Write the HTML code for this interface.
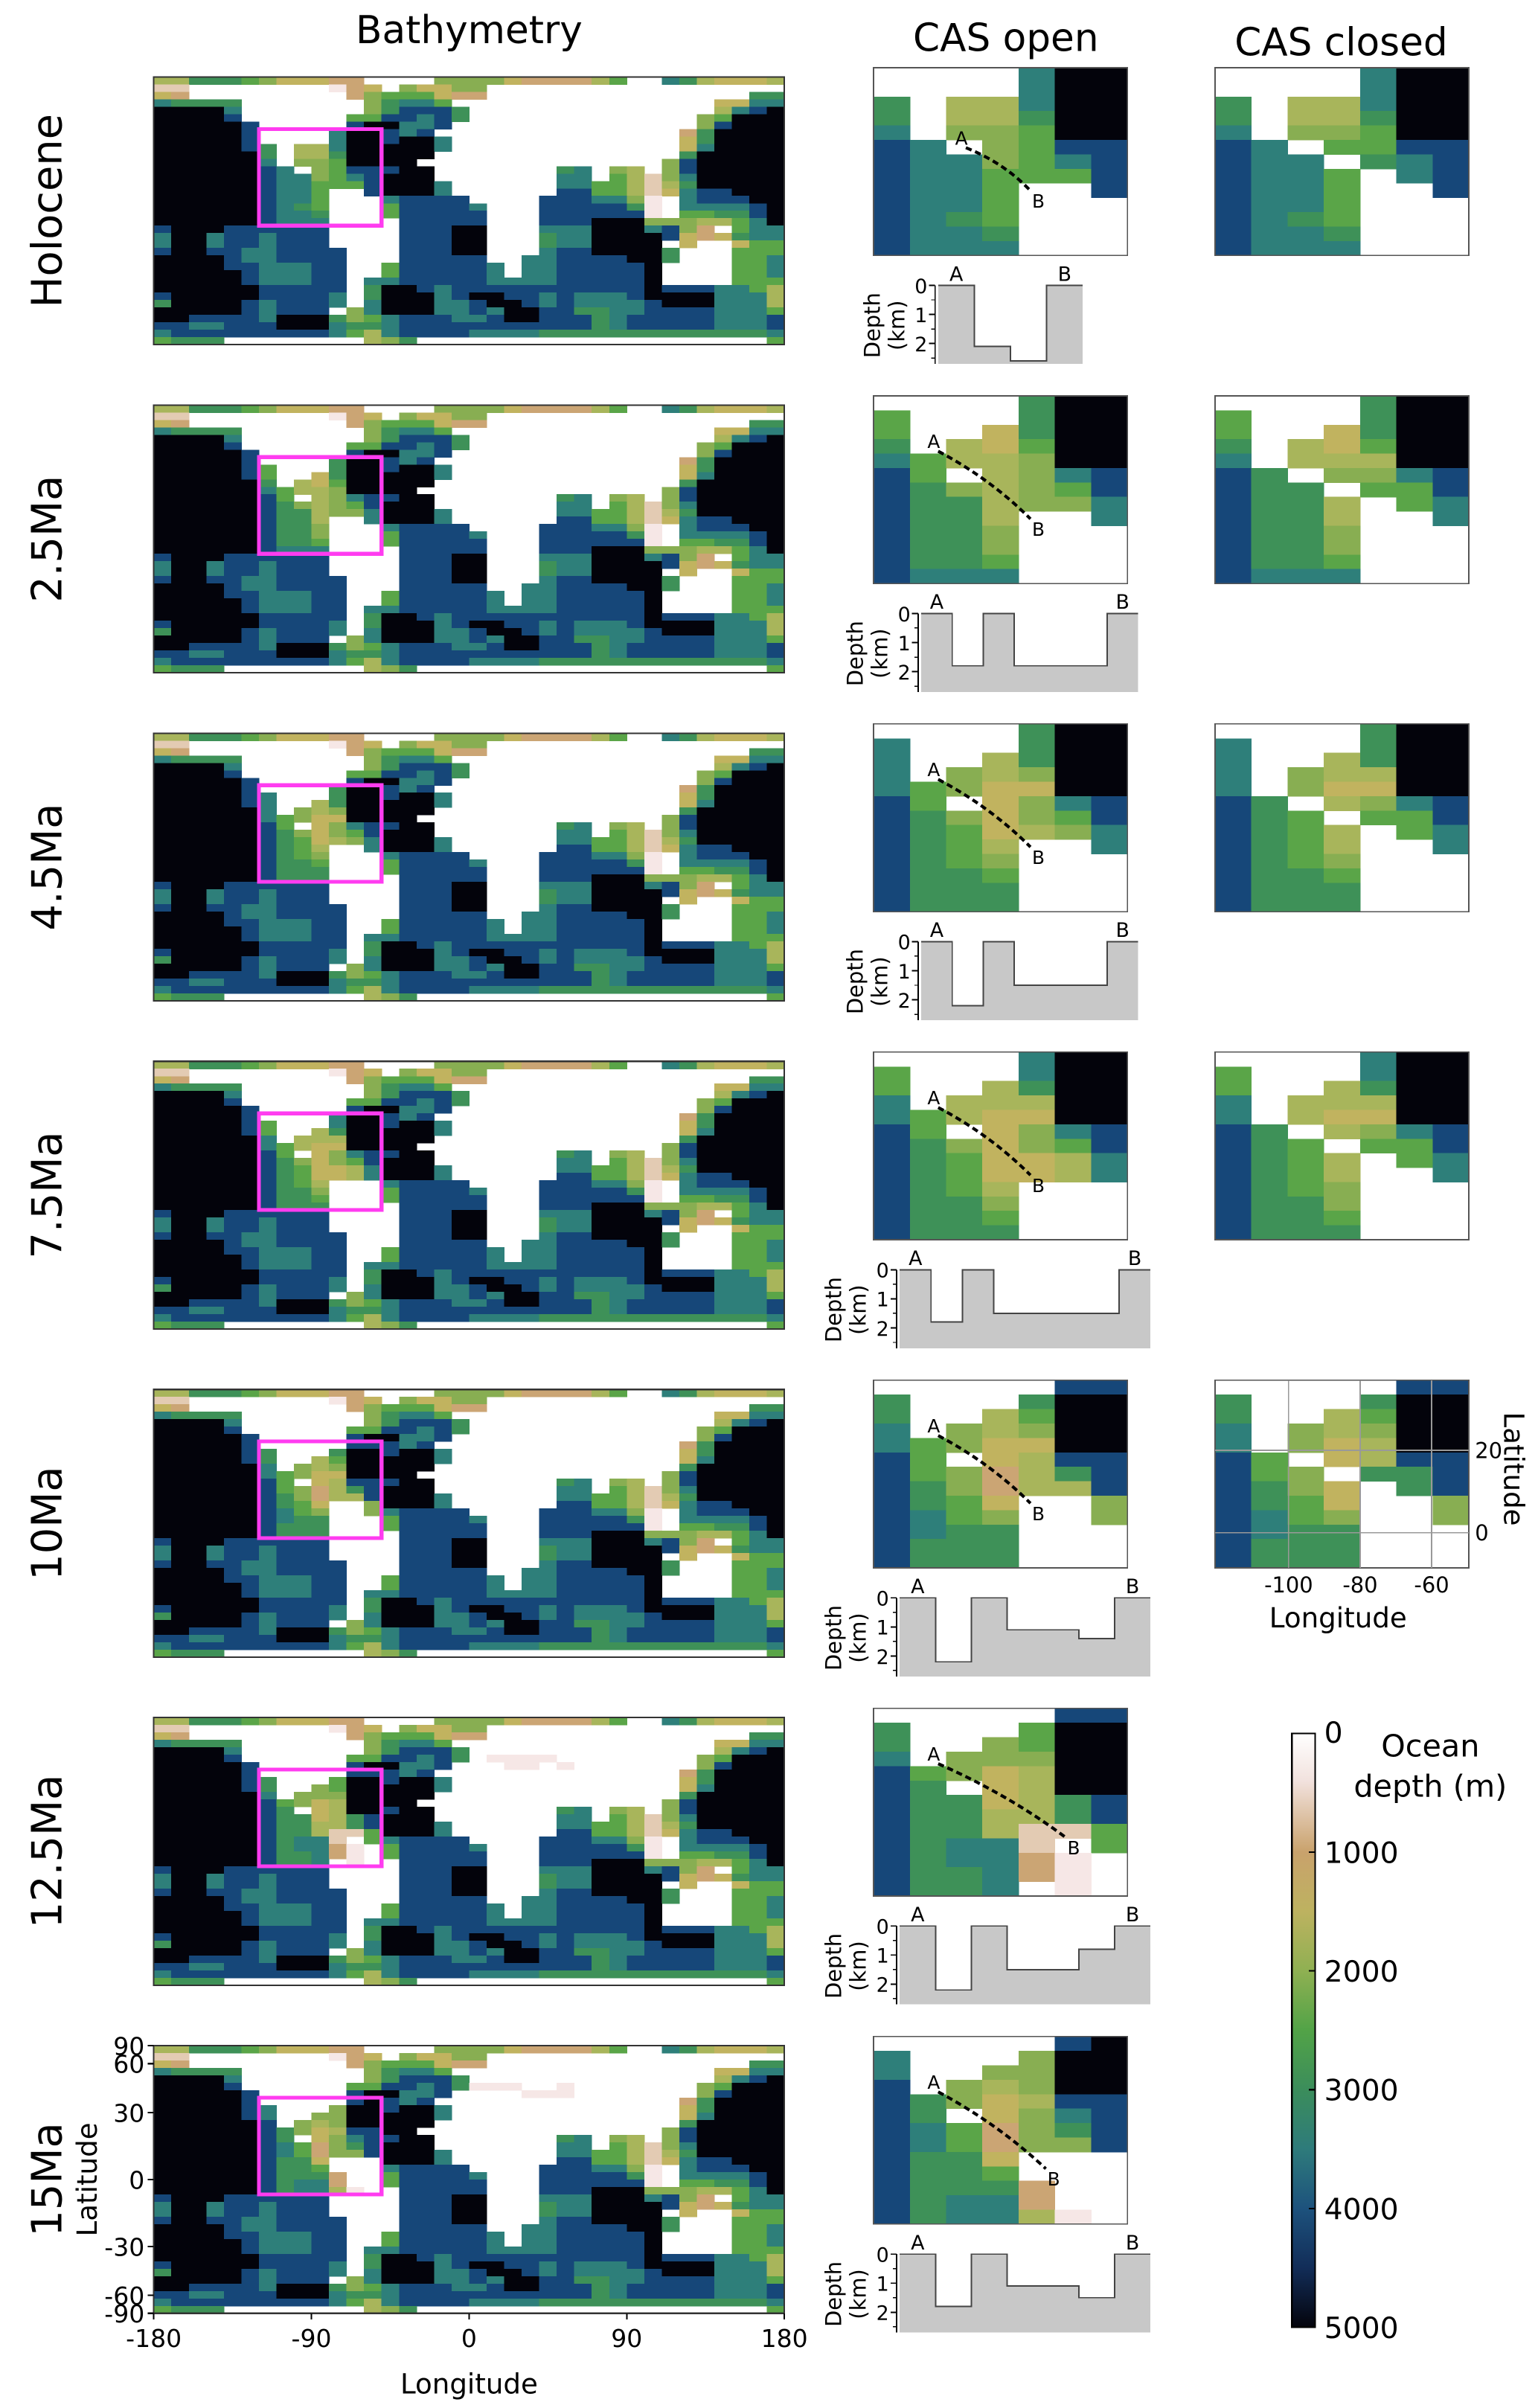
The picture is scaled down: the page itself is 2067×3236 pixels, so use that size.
<!DOCTYPE html>
<html><head><meta charset="utf-8"><title>Bathymetry CAS figure</title>
<style>
html,body{margin:0;padding:0;background:#fff;}
svg{display:block;font-family:"DejaVu Sans","Liberation Sans",sans-serif;}
</style></head>
<body>
<svg id="fig" xmlns="http://www.w3.org/2000/svg" width="2067" height="3236" viewBox="0 0 1000 1565.5" shape-rendering="crispEdges"></svg>
<script>
// ---------- data ----------
const epochs = ['Holocene','2.5Ma','4.5Ma','7.5Ma','10Ma','12.5Ma','15Ma'];
const palette = {w:'#ffffff','1':'#f6e7e6','2':'#e3cbb3','3':'#cba574','4':'#c1b35f','5':'#a8b55b','6':'#88ae52','7':'#5aa548','8':'#3e9158','9':'#2e7f7a',a:'#164779',b:'#03030b'};
const baseMap = [
"558887644433wwww66664333357ww9854445",
"22wwwwwwww134w64466wwwwwwwwwwwwwwwww",
"43wwwwwwwww36777433wwwwwwwwwwwwwww88",
"98888wwwwwww68997wwwwwwwwwwwwwww4499",
"bbbb9wwwwwww68aaa8wwwwwwwwwwwwww59ab",
"bbbbawwwwww77aa9a8wwwwwwwwwwwww67bbb",
"bbbbbawwwwwabb99awwwwwwwwwwwwww6abbb",
"bbbbbawwww9bba9awwwwwwwwwwwwww38bbbb",
"bbbbba8w559bbabb9wwwwwwwwwwwww48bbbb",
"bbbbba8w558bbbbb9wwwwwwwwwwwww49bbbb",
"bbbbbb9w667bbbbbwwwwwwwwwwwwww8bbbbb",
"bbbbbba9w67bbbbwwwwwwwwwwwwww6abbbbb",
"bbbbbba99679aabbwwwwwww89w65w6abbbbb",
"bbbbbba99779abbbwwwwwww99w75269bbbbb",
"bbbbbba99777abbb9wwwwww99775258bbbbb",
"bbbbbba997wwabbb9wwwwwwaa775249aabbb",
"bbbbbba997www9aaaawwwwaaa9961w9aaabb",
"bbbbbba987www7aaaa9wwwaaaaa81w9999ab",
"bbbbbba998www7aaaaawwwaaaaaa1w7788ab",
"bbbbbba999wwwwaaaaawwwaaabbb6665579b",
"abbbaaaaaawwwwaaabbwww999bbb9a63w799",
"9bb9aa9aaawwwwaaabbwww899bbbba434899",
"9bb9aa9aaawwwwaaabbwww899bbbbw4ww477",
"abbaa99aaaawwwaaabbwww9aabbbb8www777",
"bbbba99aaaawwwaaaaaww99aaaabb8www779",
"bbbbaa999aaww7aaaaa9w99aaaaabwwww779",
"bbbbba999aaww7aaaaa9w99aaaaabwwww779",
"bbbbba999aaw99aaaaa9999aaaaabwwww777",
"bbbbbbaaaaaw8bba9aaaaaaaaaaabaaa9975",
"abbbbbaaaa9w8bbb9abbaa9a999abbbb9995",
"8bbbba9aaa9w9bbb99abba9a9999abbb9995",
"bbbbba9aaaw69bbb99a9bbaa8899aaaa9997",
"bbaaaa9bbb8679aaa99abbaaa89aaaaa999a",
"aa99aaabbb9889aaaaaaaaaaa89aaaaa999a",
"9aaaaaaaaa9759aaaa999988888888888889",
"7888wwwwwwww568wwwwwwwwwwwwwwwwwwww7"
];
const casOpen = [
["wwww9bb","wwww9bb","8w559bb","8w558bb","9w667bb","a9w67aa","a99679a","a99777a","a997wwa","a997www","a987www","a998www","a999www"],
["wwww8bb","7www8bb","7ww48bb","8w547bb","97556bb","a7w569a","a86567a","a885669","a885ww9","a886www","a886www","a887www","a999www"],
["wwww8bb","9www8bb","9ww58bb","9w656bb","97644bb","a7w469a","a86467a","a874569","a875ww9","a876www","a887www","a888www","a888www"],
["wwww9bb","7www9bb","7ww58bb","9w555bb","97544bb","a7w469a","a86467a","a874459","a874459","a875www","a886www","a887www","a888www"],
["wwwwwaa","8www8bb","8ww57bb","9w656bb","97644bb","a7w45aa","a76358a","a86355a","a874ww6","a976ww6","a988www","a888www","a888www"],
["wwwwwaa","8www7bb","8ww67bb","9w666bb","a7645bb","a8w45bb","a88458a","a88558a","a885227","a8992w7","a89931w","a88931w","a889w1w"],
["wwwwwab","9www6bb","9ww66bb","aw656bb","a8645aa","a8w469a","a97368a","a97366a","a884www","a887www","a8883ww","a8993ww","a89951w"]
];
const casClosed = [
["wwww9bb","wwww9bb","8w559bb","8w558bb","9w667bb","a9w77aa","a99w89a","a997w9a","a997wwa","a997www","a987www","a998www","a999www"],
["wwww8bb","7www8bb","7ww48bb","8w547bb","9w555bb","a8w669a","a88w77a","a885w79","a885ww9","a886www","a886www","a887www","a999www"],
["wwww8bb","9www8bb","9ww58bb","9w655bb","9w644bb","a8w569a","a87w77a","a875w79","a875ww9","a876www","a887www","a888www","a888www"],
["wwww9bb","7www9bb","7ww58bb","9w555bb","9w544bb","a8w569a","a87w77a","a875w79","a875ww9","a876www","a886www","a887www","a888www"],
["wwwwwaa","8www8bb","8ww57bb","9w656bb","9w645bb","a7w45aa","a76w88a","a864w8a","a874ww6","a976ww6","a988www","a888www","a888www"]
];
// extra shelf cells differing from the base map: [epochIndex,row,col,code]
const mapPatches = [
[5,5,19,'1'],[5,5,20,'1'],[5,5,21,'1'],[5,5,22,'1'],[5,6,20,'1'],[5,6,21,'1'],[5,6,23,'1'],
[6,5,18,'1'],[6,5,19,'1'],[6,5,20,'1'],[6,6,21,'1'],[6,6,22,'1'],[6,6,23,'1'],[6,5,23,'1']
];
const profDepths = [
[0,2.1,2.6,0],
[0,1.8,0,1.8,1.8,1.8,0],
[0,2.2,0,1.5,1.5,1.5,0],
[0,1.8,0,1.5,1.5,1.5,1.5,0],
[0,2.2,0,1.1,1.1,1.4,0],
[0,2.2,0,1.5,1.5,0.8,0],
[0,1.8,0,1.1,1.1,1.5,0]
];
const profTicks = [0,1,2];
const latTicks = [90,60,30,0,-30,-60,-90];
const lonTicks = [-180,-90,0,90,180];
const casLonTicks = [-100,-80,-60];
const casLatTicks = [20,0];
const cbTicks = [0,1000,2000,3000,4000,5000];

// ---------- layout ----------
const svg = document.getElementById('fig');
const NS = 'http://www.w3.org/2000/svg';
function mk(tag, attrs, parent){ const e=document.createElementNS(NS,tag); for(const k in attrs) e.setAttribute(k,attrs[k]); (parent||svg).appendChild(e); return e; }
function txt(s, attrs, parent){ const e=mk('text',attrs,parent); e.textContent=s; return e; }

const mapX0=100, mapW=410, mapH=174, rowStep=213.33, mapTop0=50;
const casX0=568, casCX0=790, casW=165, casH=122, casTop0=44;
const nc=36, nr=36;
const cw=mapW/nc, ch=mapH/nr;
const lonX = v => mapX0 + (v+180)/360*mapW;
const latY = (v,top) => top + (1-Math.sin(v*Math.PI/180))/2*mapH;

let t;
t=txt('Bathymetry',{x:305,y:28,'font-size':25,'text-anchor':'middle'});
 
t=txt('CAS open',{x:654,y:33,'font-size':25,'text-anchor':'middle'});
 
t=txt('CAS closed',{x:872,y:36,'font-size':25,'text-anchor':'middle'});
 

function drawGrid(grid, x0, y0, w, h, name, parent){
  const rows=grid.length, cols=grid[0].length, dx=w/cols, dy=h/rows;
  for(let r=0;r<rows;r++) for(let c=0;c<cols;c++){
    const code=grid[r][c]; if(code==='w') continue;
    const cell=mk('rect',{x:(x0+c*dx).toFixed(2),y:(y0+r*dy).toFixed(2),width:(dx+0.25).toFixed(2),height:(dy+0.25).toFixed(2),fill:palette[code]},parent);
    
    
  }
}

epochs.forEach((ep,i)=>{
  const top=mapTop0+i*rowStep;
  const g=mk('g',{});
  
  
  const lab=txt(ep,{x:0,y:0,'font-size':27,'text-anchor':'middle',transform:`translate(40 ${top+mapH/2}) rotate(-90)`},g);
  
  
  const grid=baseMap.map(s=>s.split(''));
  casOpen[i].forEach((row,r)=>{ for(let c=0;c<7;c++) grid[7+r][6+c]=row[c]; });
  mapPatches.filter(p=>p[0]===i).forEach(p=>{ grid[p[1]][p[2]]=p[3]; });
  drawGrid(grid,mapX0,top,mapW,mapH,'bathymetry-cell',g);
  const fr=mk('rect',{x:mapX0,y:top,width:mapW,height:mapH,fill:'none',stroke:'#333',"stroke-width":1},g);
  
  
  const box=mk('rect',{x:mapX0+6*cw,y:top+7*ch,width:7*cw,height:13*ch,fill:'none',stroke:'#ff3cf0','stroke-width':2.5},g);
  
  

  const ctop=casTop0+i*rowStep;
  drawGrid(casOpen[i],casX0,ctop,casW,casH,'cas-open-cell',g);
  const cf=mk('rect',{x:casX0,y:ctop,width:casW,height:casH,fill:'none',stroke:'#555','stroke-width':0.8},g);
  
  
  const ax = i===0?[60,52]:[42,36];
  const bx = i===5?[125,84]:(i===6?[112,86]:[102,80]);
  const dl=mk('path',{d:`M${casX0+ax[0]} ${ctop+ax[1]} Q ${casX0+(ax[0]+bx[0])/2+4} ${ctop+(ax[1]+bx[1])/2-4} ${casX0+bx[0]} ${ctop+bx[1]}`,fill:'none',stroke:'#000','stroke-width':2,'stroke-dasharray':'4 2.5','shape-rendering':'auto'},g);
  
  
  t=txt('A',{x:casX0+ax[0]-7,y:ctop+ax[1]-2,'font-size':12},g);
   
  t=txt('B',{x:casX0+bx[0]+1,y:ctop+bx[1]+11,'font-size':12},g);
   

  if(i<casClosed.length){
    drawGrid(casClosed[i],casCX0,ctop,casW,casH,'cas-closed-cell',g);
    const cc=mk('rect',{x:casCX0,y:ctop,width:casW,height:casH,fill:'none',stroke:'#555','stroke-width':0.8},g);
    
    
  }

  const axX=[610,599,599,585,585,585,585][i], right=[704,740,740,748,748,748,748][i];
  const z0=ctop+141.5, kmPx=18.9, maxD=2.7;
  const dY=d=>z0+d*kmPx;
  const deps=profDepths[i], n=deps.length, sw=(right-axX)/n;
  let d=`M${axX} ${dY(maxD)}`;
  deps.forEach((v,k)=>{ d+=` L${axX+k*sw} ${dY(v)} L${axX+(k+1)*sw} ${dY(v)}`; });
  d+=` L${right} ${dY(maxD)} Z`;
  const pf=mk('path',{d:d,fill:'#c8c8c8',stroke:'none'},g);
  
  
  let ld=''; deps.forEach((v,k)=>{ ld+=(k===0?'M':' L')+`${axX+k*sw} ${dY(v)} L${axX+(k+1)*sw} ${dY(v)}`; });
  const pl=mk('path',{d:ld,fill:'none',stroke:'#444','stroke-width':0.9},g);
  
  
  const pa=mk('line',{x1:axX-2,y1:dY(0),x2:axX-2,y2:dY(maxD),stroke:'#000','stroke-width':0.9},g);
  
  
  profTicks.forEach(v=>{
    const tk=mk('line',{x1:axX-6,y1:dY(v),x2:axX-2,y2:dY(v),stroke:'#000','stroke-width':0.9},g);
    
    
    const tl=txt(String(v),{x:axX-7,y:dY(v)+5,'font-size':13,'text-anchor':'end'},g);
    
    
  });
  [0.5,1.5,2.5].forEach(v=>{
    const mt=mk('line',{x1:axX-4.5,y1:dY(v),x2:axX-2,y2:dY(v),stroke:'#000','stroke-width':0.7},g);
    
    
  });
  t=txt('Depth',{x:0,y:0,'font-size':14,'text-anchor':'middle',transform:`translate(${axX-38} ${z0+26}) rotate(-90)`},g);
   
  t=txt('(km)',{x:0,y:0,'font-size':14,'text-anchor':'middle',transform:`translate(${axX-22} ${z0+26}) rotate(-90)`},g);
   
  t=txt('A',{x:axX+sw*0.5,y:z0-3,'font-size':13,'text-anchor':'middle'},g);
   
  t=txt('B',{x:right-sw*0.5,y:z0-3,'font-size':13,'text-anchor':'middle'},g);
   
});

const lastTop=mapTop0+6*rowStep;
latTicks.forEach(v=>{
  const y=latY(v,lastTop);
  const tk=mk('line',{x1:mapX0-4,y1:y,x2:mapX0,y2:y,stroke:'#000'});
  
  
  const tl=txt(String(v),{x:mapX0-6,y:y+6,'font-size':16,'text-anchor':'end'});
  
  
});
lonTicks.forEach(v=>{
  const x=lonX(v);
  const tk=mk('line',{x1:x,y1:lastTop+mapH,x2:x,y2:lastTop+mapH+4,stroke:'#000'});
  
  
  const tl=txt(String(v),{x:x,y:lastTop+mapH+22,'font-size':16,'text-anchor':'middle'});
  
  
});
t=txt('Latitude',{x:0,y:0,'font-size':18,'text-anchor':'middle',transform:`translate(63 ${lastTop+mapH/2}) rotate(-90)`});
 
t=txt('Longitude',{x:305,y:1556,'font-size':18,'text-anchor':'middle'});
 

const cTop=casTop0+4*rowStep;
const cLonX=v=>casCX0+(v+120.6)/71*casW;
const cLatY=v=>cTop+(37-v)/45.5*casH;
casLonTicks.forEach(v=>{
  const x=cLonX(v);
  const gl=mk('line',{x1:x,y1:cTop,x2:x,y2:cTop+casH,stroke:'#999','stroke-width':0.8});
  
  
  const tl=txt(String(v),{x:x,y:cTop+casH+16,'font-size':14,'text-anchor':'middle'});
  
  
});
casLatTicks.forEach(v=>{
  const y=cLatY(v);
  const gl=mk('line',{x1:casCX0,y1:y,x2:casCX0+casW,y2:y,stroke:'#999','stroke-width':0.8});
  
  
  const tl=txt(String(v),{x:casCX0+casW+4,y:y+5,'font-size':14});
  
  
});
t=txt('Longitude',{x:870,y:1058,'font-size':18,'text-anchor':'middle'});
 
t=txt('Latitude',{x:0,y:0,'font-size':18,'text-anchor':'middle',transform:`translate(978 955) rotate(90)`});
 

const defs=mk('defs',{});
const lg=mk('linearGradient',{id:'cb',x1:0,y1:0,x2:0,y2:1},defs);
[['0','#ffffff'],['0.08','#f2e2de'],['0.2','#c9a26c'],['0.3','#bdb260'],['0.4','#8fb052'],['0.5','#52a347'],['0.6','#3b8d5b'],['0.7','#2e7b7b'],['0.8','#1d527d'],['0.9','#122d58'],['1','#04040c']].forEach(s=>mk('stop',{offset:s[0],'stop-color':s[1]},lg));
const cbY0=1127, cbY1=1513, cbX=840, cbW=15;
const cb=mk('rect',{x:cbX,y:cbY0,width:cbW,height:cbY1-cbY0,fill:'url(#cb)',stroke:'#000','stroke-width':1});


cbTicks.forEach(v=>{
  const y=cbY0+v/5000*(cbY1-cbY0);
  const tk=mk('line',{x1:cbX+cbW-4,y1:y,x2:cbX+cbW,y2:y,stroke:'#000'});
  
  
  const tl=txt(String(v),{x:cbX+cbW+6,y:y+(v===0?6:7),'font-size':19});
  
  
});
t=txt('Ocean',{x:930,y:1142,'font-size':20,'text-anchor':'middle'});
 
t=txt('depth (m)',{x:930,y:1168,'font-size':20,'text-anchor':'middle'});
 
</script>
</body></html>
